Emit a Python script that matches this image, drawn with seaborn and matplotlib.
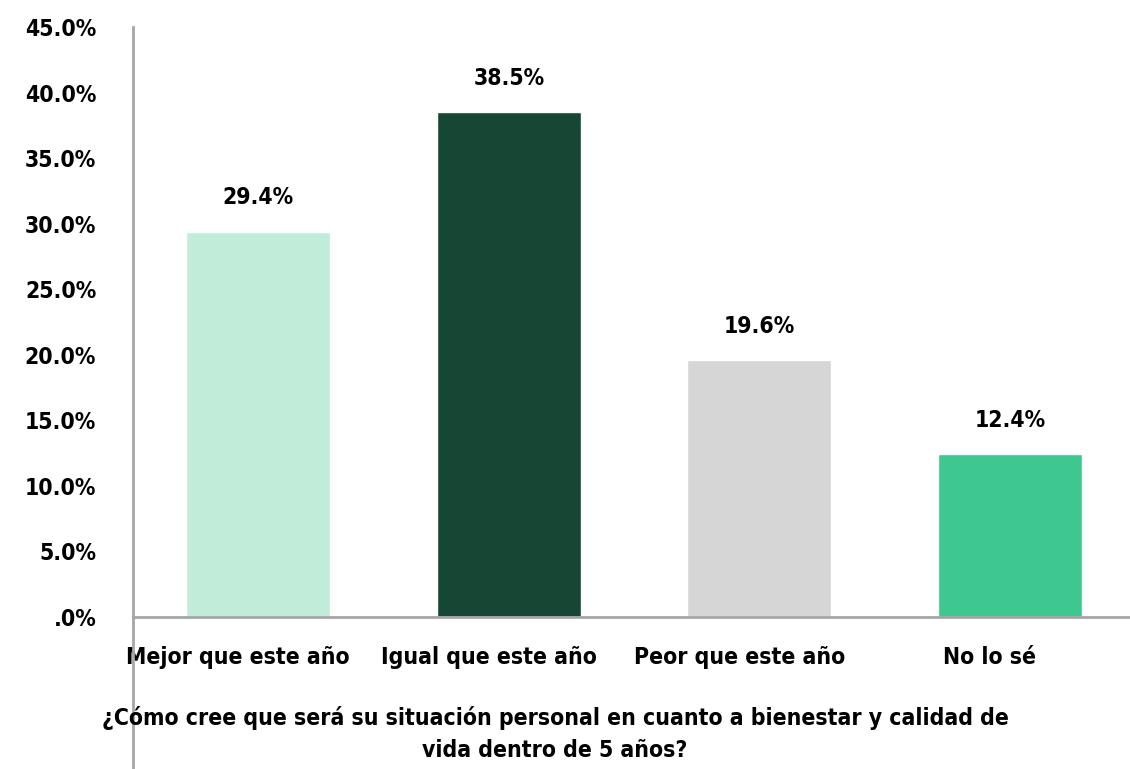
import matplotlib
matplotlib.use("Agg")
import matplotlib.pyplot as plt
import matplotlib.transforms as mtransforms
from matplotlib.ticker import FuncFormatter, MultipleLocator
import pandas as pd
import seaborn as sns

# data
categories = ["Mejor que este año", "Igual que este año", "Peor que este año", "No lo sé"]
values = [29.4, 38.5, 19.6, 12.4]
colors = ["#c0ecd9", "#154734", "#d6d6d6", "#3ec78f"]
question = "¿Cómo cree que será su situación personal en cuanto a bienestar y calidad de\nvida dentro de 5 años?"

df = pd.DataFrame({"cat": categories, "val": values})

sns.set_style("white")
plt.rcParams["font.family"] = ["DejaVu Sans"]
plt.rcParams["font.stretch"] = "condensed"
plt.rcParams["font.weight"] = "bold"
plt.rcParams["text.color"] = "black"

fs = 16.5

fig = plt.figure(figsize=(11.3, 7.69), dpi=100)
ax = fig.add_axes([133 / 1130, 152 / 769, 1002 / 1130, 590 / 769])

sns.barplot(data=df, x="cat", y="val", hue="cat", palette=colors, width=0.575,
            legend=False, ax=ax, saturation=1)

ax.set_ylim(0, 45)
ax.set_xlim(-0.5, 3.5)
ax.yaxis.set_major_locator(MultipleLocator(5))
ax.yaxis.set_major_formatter(FuncFormatter(lambda v, p: ".0%" if v == 0 else f"{v:.1f}%"))
ax.tick_params(axis="both", length=0, labelsize=fs, labelcolor="black")
ax.tick_params(axis="y", pad=26.5)
ax.tick_params(axis="x", pad=21)
for lbl in ax.get_yticklabels() + ax.get_xticklabels():
    lbl.set_fontweight("bold")
    lbl.set_fontstretch("condensed")
offset = mtransforms.ScaledTranslation(-20 / 100, 0, fig.dpi_scale_trans)
for lbl in ax.get_xticklabels():
    lbl.set_transform(lbl.get_transform() + offset)

for c in ax.containers:
    ax.bar_label(c, fmt="%.1f%%", padding=16, fontsize=fs, fontweight="bold",
                 fontstretch="condensed", color="black")

ax.set_xlabel("")
ax.set_ylabel("")
for s in ["top", "right"]:
    ax.spines[s].set_visible(False)
for s in ["left", "bottom"]:
    ax.spines[s].set_color("#a6a6a6")
    ax.spines[s].set_linewidth(2)
ax.spines["left"].set_bounds(-12, 45)

fig.text(555 / 1130, 1 - 734 / 769, question, ha="center", va="center",
         fontsize=fs, fontweight="bold", fontstretch="condensed", linespacing=1.45)

fig.savefig("out.png", dpi=100)
